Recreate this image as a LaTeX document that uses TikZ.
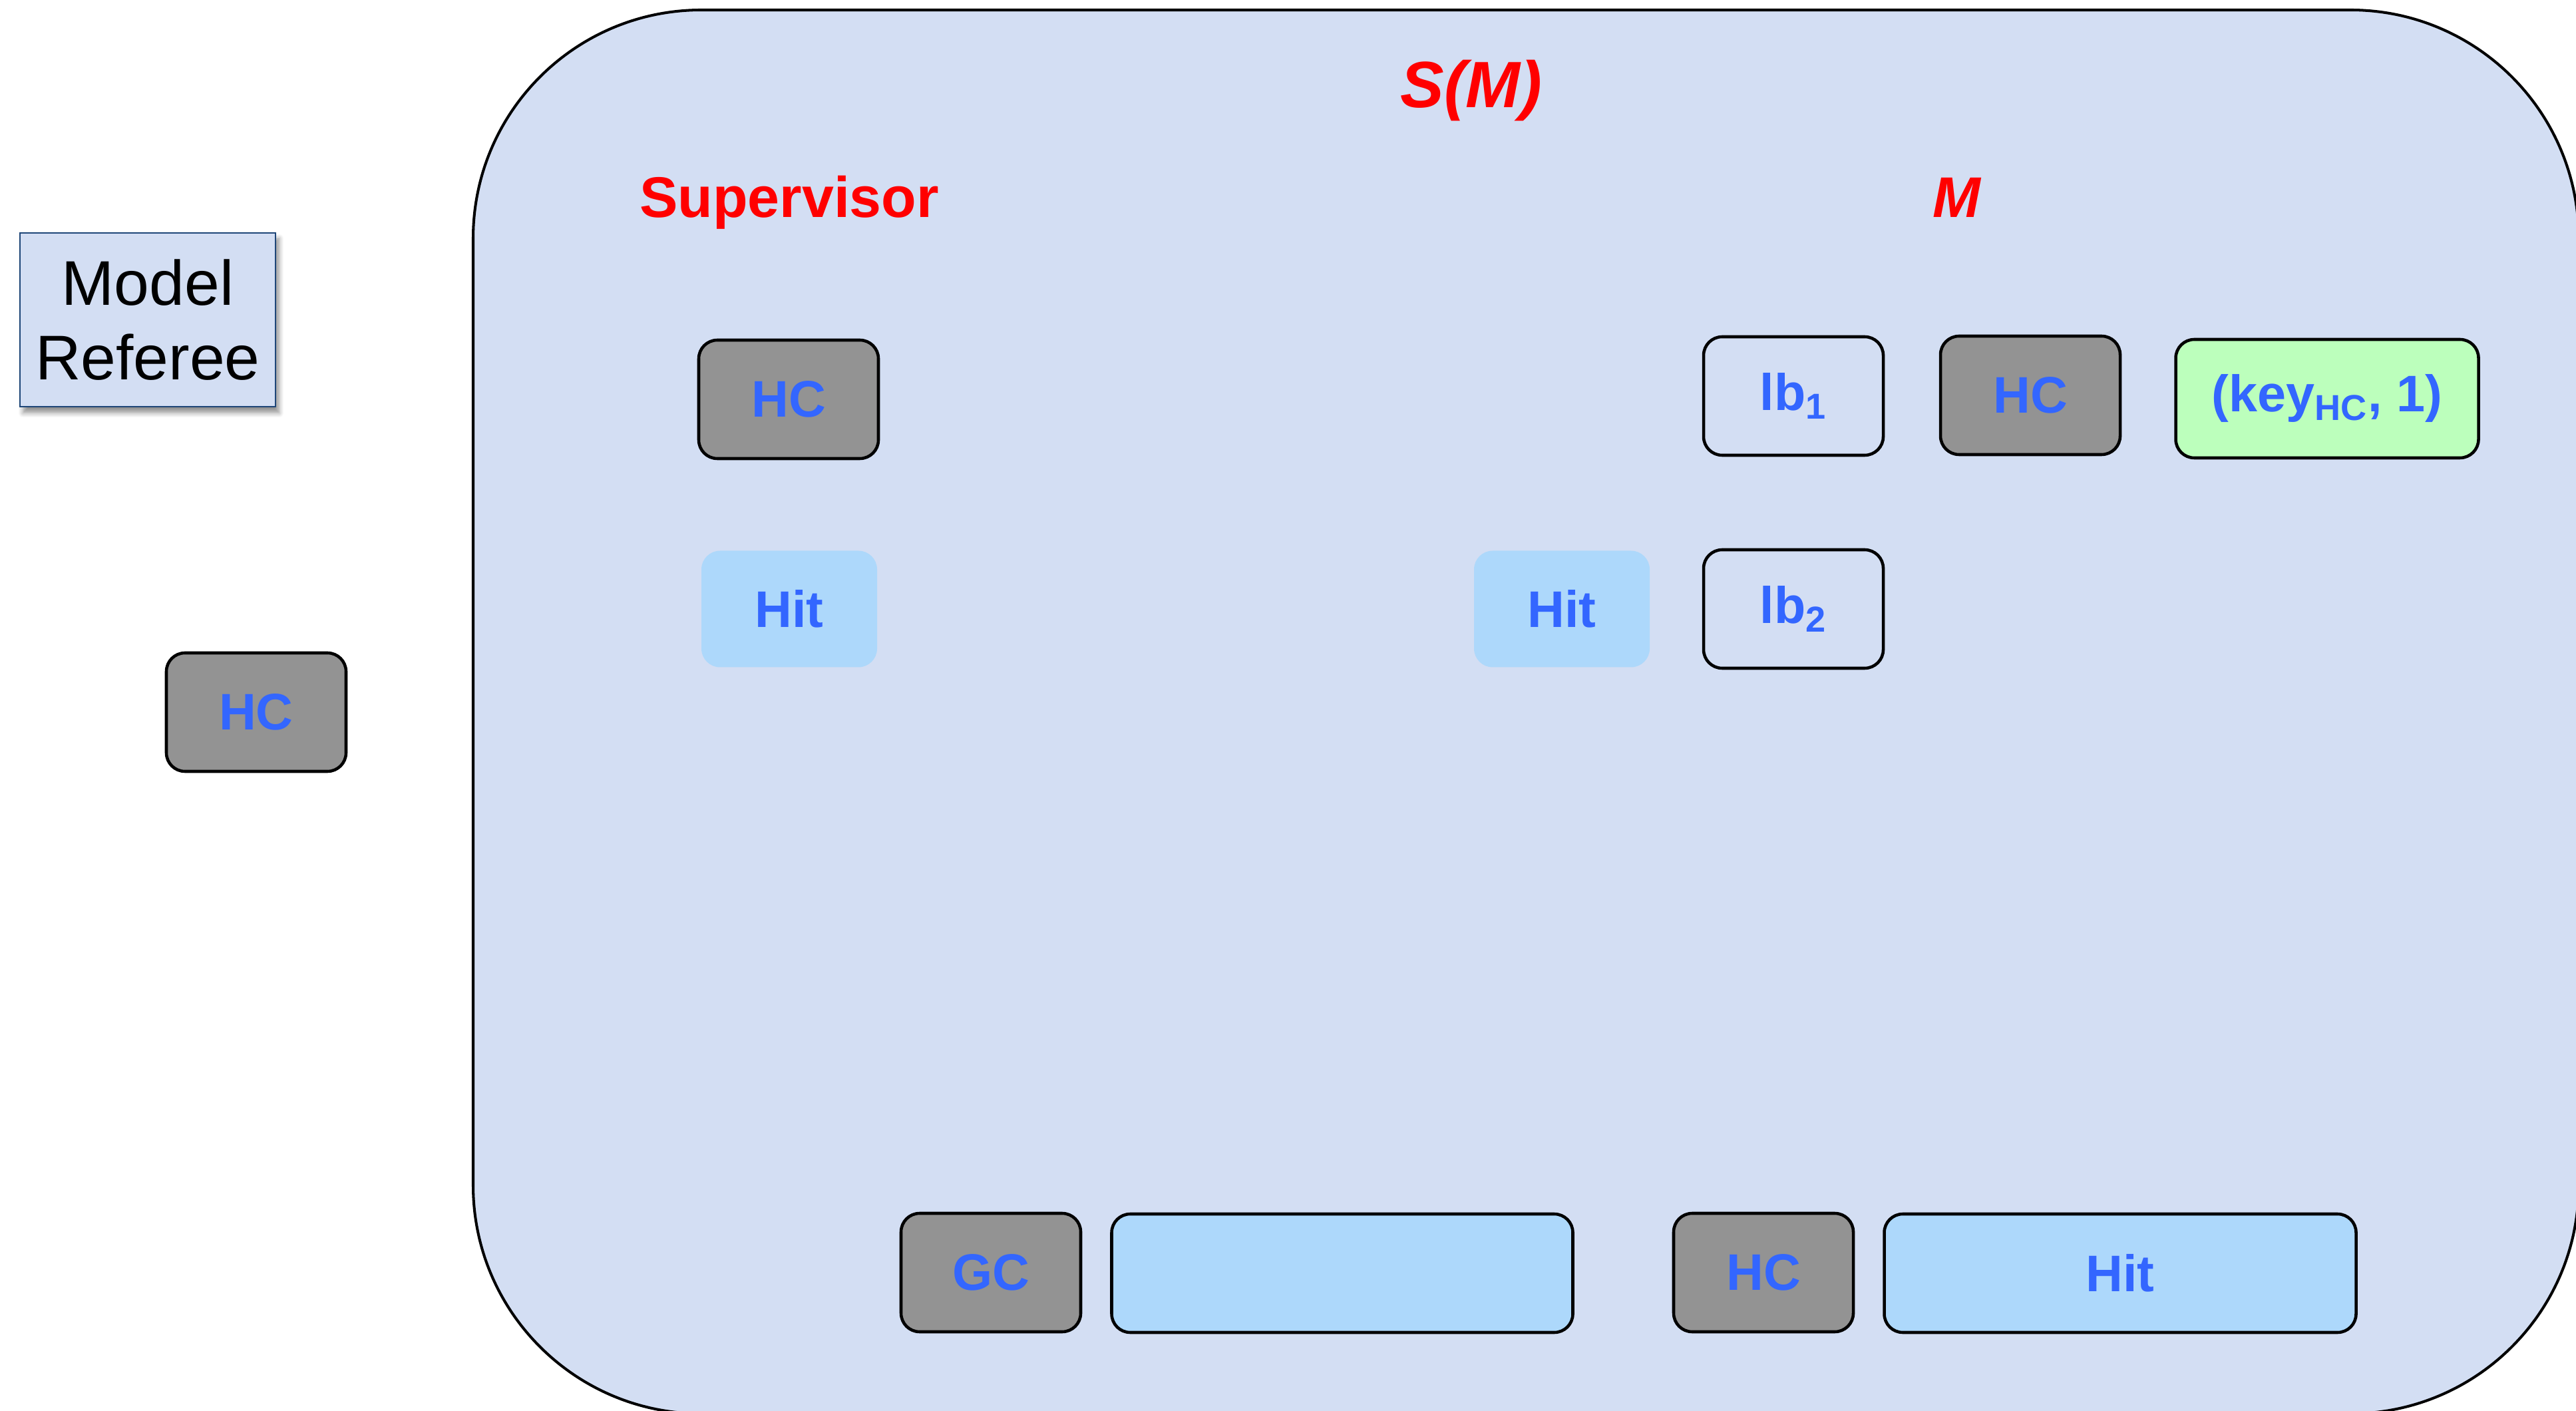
\documentclass[tikz,border=0pt]{standalone}
\usepackage{fontspec}
\setmainfont{Liberation Sans}
\usetikzlibrary{shadows.blur}

\definecolor{regionbg}{RGB}{211,222,243}
\definecolor{refborder}{RGB}{30,70,120}
\definecolor{hcgray}{RGB}{147,147,147}
\definecolor{hitblue}{RGB}{173,216,251}
\definecolor{keygreen}{RGB}{188,255,188}
\definecolor{txtblue}{RGB}{51,102,255}

\begin{document}
\begin{tikzpicture}[
    cell/.style ={rounded corners=0.28cm, draw, line width=1.3pt, inner sep=0pt,
                  minimum width=2.70cm, minimum height=1.78cm, text=txtblue,
                  font=\fontsize{22}{26}\selectfont\bfseries},
    hc/.style   ={cell, fill=hcgray},
    hit/.style  ={cell, draw=none, fill=hitblue, minimum width=2.64cm, minimum height=1.75cm},
    lbox/.style ={cell},
    title/.style={anchor=base, text=red, inner sep=0pt, font=\fontsize{24.5}{28}\selectfont\bfseries}]

   \useasboundingbox (0,0) rectangle (38.71,-21.20);

   % the region S(M)
   \begin{scope}
     \clip (0,0) rectangle (38.71,-21.20);
     \draw[line width=1.15pt, fill=regionbg, rounded corners=3.43cm]
       (7.11,-0.15) rectangle (38.75,-21.24);
   \end{scope}

   \node[rectangle, draw=refborder, line width=0.7pt, fill=regionbg,
         minimum width=3.84cm, minimum height=2.61cm, align=center,
         font=\fontsize{27}{31.75}\selectfont,
         blur shadow={shadow xshift=0.5mm, shadow yshift=-0.9mm, shadow blur steps=8,
                      shadow opacity=45}] (R) at (2.22,-4.805) {Model\\Referee};

   \node[title, font=\fontsize{28}{32}\selectfont\bfseries\itshape] (SM) at (22.11,-1.62) {S(M)};
   \node[title] (Sup) at (11.86,-3.27) {Supervisor};
   \node[title, font=\fontsize{24.5}{28}\selectfont\bfseries\itshape] (M) at (29.40,-3.27) {M};

   % supervisor
   \node[hc]  (A) at (11.85,-6.00) {HC};
   \node[hit] (B) at (11.86,-9.15) {Hit};

   % M
   \node[lbox] (C) at (26.95,-5.95) {lb\textsubscript{1}};
   \node[hc]   (D) at (30.51,-5.94) {HC};
   \node[lbox, fill=keygreen, minimum width=4.55cm] (E) at (34.97,-5.99) {(key\textsubscript{HC}, 1)};
   \node[hit]  (F) at (23.47,-9.15) {Hit};
   \node[lbox] (G) at (26.95,-9.15) {lb\textsubscript{2}};

   % outside
   \node[hc] (H) at (3.85,-10.70) {HC};

   % bottom row
   \node[hc] (I) at (14.89,-19.12) {GC};
   \node[cell, fill=hitblue, minimum width=6.93cm] (J) at (20.17,-19.13) {};
   \node[hc] (K) at (26.50,-19.12) {HC};
   \node[cell, fill=hitblue, minimum width=7.09cm] (L) at (31.86,-19.13) {Hit};

 \end{tikzpicture}
\end{document}
